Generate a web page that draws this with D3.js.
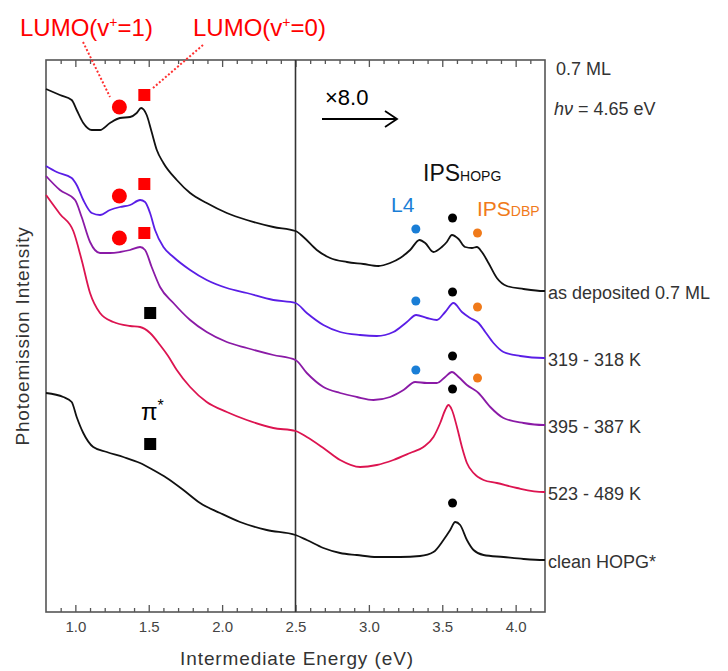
<!DOCTYPE html>
<html>
<head>
<meta charset="utf-8">
<script src="https://cdn.jsdelivr.net/npm/d3@7"></script>
<style>
    body { margin: 0; background: #fff; }
    svg { display: block; font-family: "Liberation Sans", Arial, sans-serif; }
</style>
</head>
<body>
<svg id="chart" width="728" height="671"></svg>
<script>
// Spectra: [energy (eV), intensity (a.u., offset, right of 2.5 eV shown x8)]
const asDeposited = [
    [0.80,52.3],[0.895,51.7],[0.975,51.2],[1.009,50.2],[1.054,48.9],[1.112,48.2],[1.168,48.2],
    [1.236,48.9],[1.304,49.4],[1.373,49.5],[1.418,49.9],[1.448,50.4],[1.486,49.7],[1.520,48.0],
    [1.555,46.2],[1.600,44.9],[1.691,43.2],[1.782,41.9],[1.895,40.9],[2.032,39.9],[2.168,39.2],
    [2.349,38.5],[2.50,38.1],[2.554,37.5],[2.645,36.2],[2.736,35.4],[2.850,35.0],[2.963,34.8],
    [3.065,34.6],[3.145,34.9],[3.213,35.4],[3.281,36.2],[3.345,37.2],[3.384,36.9],[3.440,36.0],
    [3.497,36.5],[3.531,37.0],[3.566,37.7],[3.611,37.3],[3.656,36.5],[3.702,36.4],[3.736,36.5],
    [3.770,36.0],[3.815,34.9],[3.872,33.4],[3.940,32.6],[4.054,32.3],[4.190,32.1],[4.20,32.1]
];
const k319 = [
    [0.80,44.6],[0.873,44.0],[0.975,43.4],[1.009,42.7],[1.054,41.2],[1.112,39.9],[1.168,39.7],
    [1.236,40.2],[1.304,40.5],[1.373,40.7],[1.441,41.2],[1.475,41.0],[1.509,39.9],[1.543,38.2],
    [1.600,36.5],[1.668,35.5],[1.782,34.2],[1.895,33.2],[2.032,32.4],[2.168,31.9],[2.349,31.2],
    [2.50,30.9],[2.577,29.9],[2.690,28.7],[2.804,28.0],[2.940,27.7],[3.054,27.6],[3.167,28.0],
    [3.259,29.0],[3.322,29.7],[3.395,29.4],[3.463,29.2],[3.520,30.0],[3.576,30.9],[3.634,30.0],
    [3.690,29.4],[3.747,28.9],[3.793,28.0],[3.849,26.9],[3.917,26.0],[4.031,25.6],[4.190,25.4],
    [4.20,25.4]
];
const k395 = [
    [0.80,43.6],[0.895,42.2],[0.998,41.2],[1.043,39.5],[1.100,37.0],[1.168,35.9],[1.236,35.9],
    [1.304,36.0],[1.373,36.2],[1.441,36.5],[1.475,36.2],[1.520,34.5],[1.577,32.5],[1.668,30.9],
    [1.782,29.2],[1.895,28.0],[2.032,27.0],[2.168,26.4],[2.349,25.7],[2.50,25.2],[2.577,23.9],
    [2.690,22.5],[2.804,21.9],[2.918,21.5],[3.031,21.2],[3.145,21.5],[3.236,22.2],[3.315,23.0],
    [3.395,22.9],[3.463,22.9],[3.520,23.5],[3.566,24.0],[3.611,23.5],[3.668,22.7],[3.747,21.9],
    [3.827,20.5],[3.917,19.4],[4.054,18.9],[4.190,18.7],[4.20,18.7]
];
const k523 = [
    [0.80,41.7],[0.895,39.8],[0.986,38.1],[1.043,35.2],[1.100,31.9],[1.168,29.9],[1.259,29.0],
    [1.373,28.6],[1.441,28.5],[1.509,27.9],[1.577,26.7],[1.632,25.6],[1.691,24.2],[1.782,22.5],
    [1.895,21.0],[2.032,20.0],[2.168,19.2],[2.349,18.4],[2.50,18.1],[2.577,17.5],[2.690,16.4],
    [2.804,15.2],[2.940,14.5],[3.054,14.7],[3.167,15.2],[3.281,15.9],[3.372,16.5],[3.440,17.5],
    [3.486,18.9],[3.520,20.2],[3.542,20.7],[3.566,20.2],[3.600,18.5],[3.634,16.5],[3.668,14.9],
    [3.713,13.9],[3.781,13.2],[3.872,12.9],[4.009,12.4],[4.190,12.0],[4.20,12.0]
];
const cleanHOPG = [
    [0.80,21.9],[0.918,21.5],[0.975,21.0],[1.009,19.5],[1.054,17.9],[1.122,16.5],[1.214,16.0],
    [1.327,15.5],[1.441,14.9],[1.531,14.2],[1.623,13.4],[1.736,12.2],[1.850,10.9],[1.986,9.9],
    [2.122,9.0],[2.304,8.2],[2.50,7.7],[2.577,7.2],[2.690,6.4],[2.804,5.9],[2.918,5.7],
    [3.054,5.5],[3.213,5.5],[3.349,5.6],[3.440,6.0],[3.508,7.2],[3.554,8.2],[3.588,9.0],
    [3.622,8.7],[3.668,7.2],[3.713,6.2],[3.781,5.7],[3.917,5.5],[4.054,5.3],[4.190,5.2],[4.20,5.2]
];

const seriesData = [asDeposited, k319, k395, k523, cleanHOPG];
const seriesLabels = ["as deposited 0.7 ML", "319 - 318 K", "395 - 387 K", "523 - 489 K", "clean HOPG*"];

// Peak markers [energy, intensity]
const lumo1Marks = [[1.30,50.5],[1.30,41.6],[1.30,37.4]];
const lumo0Marks = [[1.47,51.7],[1.47,42.8],[1.47,37.9]];
const piMarks = [[1.51,29.9],[1.51,16.8]];
const l4Marks = [[3.32,38.3],[3.32,31.1],[3.32,24.2]];
const ipsHopgMarks = [[3.57,39.4],[3.57,32.0],[3.57,25.6],[3.57,22.3],[3.57,10.9]];
const ipsDbpMarks = [[3.74,37.9],[3.74,30.5],[3.74,23.4]];

const majorTicks = [1.0, 1.5, 2.0, 2.5, 3.0, 3.5, 4.0];
const minorTicks = [0.9,1.1,1.2,1.3,1.4,1.6,1.7,1.8,1.9,2.1,2.2,2.3,2.4,2.6,2.7,2.8,2.9,
                    3.1,3.2,3.3,3.4,3.6,3.7,3.8,3.9,4.1];

document.addEventListener("DOMContentLoaded", function() {

    const seriesColors = ["#111111", "#5a1ee6", "#8a1aa6", "#dc1450", "#111111"];
    const frameColor = "#555";

    const svg = d3.select("#chart");

    ////////// Scales //////////
    const x = d3.scaleLinear().domain([0.8, 4.2]).range([46, 545]);
    const y = d3.scaleLinear().domain([0, 55.2]).range([612, 60]);
    const line = d3.line()
        .x(d => x(d[0]))
        .y(d => y(d[1]))
        .curve(d3.curveMonotoneX);

    ////////// Axes //////////
    const bottom = svg.append("g").attr("transform", `translate(0,${y(0)})`);
    bottom.call(d3.axisBottom(x).tickValues(majorTicks).tickSize(-7).tickPadding(9)
        .tickFormat(d3.format(".1f")));
    bottom.append("g").call(d3.axisBottom(x).tickValues(minorTicks).tickSize(-4).tickFormat(""));

    const top = svg.append("g").attr("transform", `translate(0,${y(55.2)})`);
    top.call(d3.axisTop(x).tickValues(majorTicks).tickSize(-7).tickFormat(""));
    top.append("g").call(d3.axisTop(x).tickValues(minorTicks).tickSize(-4).tickFormat(""));

    svg.selectAll(".domain").remove();
    svg.selectAll(".tick line").attr("stroke", frameColor).attr("stroke-width", 1.3);
    svg.selectAll(".tick text")
        .attr("fill", "#444")
        .style("font-size", "15px")
        .style("font-family", "Liberation Sans, Arial, sans-serif");

    // Frame and the 2.5 eV separator
    svg.append("rect")
        .attr("x", x(0.8)).attr("y", y(55.2))
        .attr("width", x(4.2) - x(0.8)).attr("height", y(0) - y(55.2))
        .attr("fill", "none").attr("stroke", frameColor).attr("stroke-width", 1.6);
    svg.append("line")
        .attr("x1", x(2.5)).attr("x2", x(2.5)).attr("y1", y(55.2)).attr("y2", y(0))
        .attr("stroke", "#333").attr("stroke-width", 1.6);

    // Axis titles
    svg.append("text")
        .attr("x", 297).attr("y", 665)
        .attr("text-anchor", "middle")
        .attr("fill", "#333")
        .style("font-size", "19px")
        .style("letter-spacing", "0.9px")
        .text("Intermediate Energy (eV)");
    svg.append("text")
        .attr("transform", "translate(29,336) rotate(-90)")
        .attr("text-anchor", "middle")
        .attr("fill", "#333")
        .style("font-size", "19px")
        .style("letter-spacing", "0.8px")
        .text("Photoemission Intensity");

    ////////// Spectra //////////
    seriesData.forEach((data, i) => {
        svg.append("path")
            .datum(data)
            .attr("fill", "none")
            .attr("stroke", seriesColors[i])
            .attr("stroke-width", 1.8)
            .attr("stroke-linejoin", "round")
            .attr("d", line);

        const last = data[data.length - 1];
        svg.append("text")
            .attr("x", x(4.2) + 3)
            .attr("y", y(last[1]) + 2)
            .attr("dy", "0.35em")
            .attr("fill", "#333")
            .style("font-size", "18px")
            .text(seriesLabels[i]);
    });

    ////////// Markers //////////
    function dots(marks, r, color) {
        svg.append("g").selectAll("circle")
            .data(marks).join("circle")
            .attr("cx", d => x(d[0])).attr("cy", d => y(d[1]))
            .attr("r", r).attr("fill", color);
    }
    function squares(marks, s, color) {
        svg.append("g").selectAll("rect")
            .data(marks).join("rect")
            .attr("x", d => x(d[0]) - s / 2).attr("y", d => y(d[1]) - s / 2)
            .attr("width", s).attr("height", s).attr("fill", color);
    }
    dots(lumo1Marks, 7.5, "#ff0000");
    squares(lumo0Marks, 12, "#ff0000");
    squares(piMarks, 12, "#000");
    dots(l4Marks, 4.5, "#1a7ed6");
    dots(ipsHopgMarks, 4.5, "#000");
    dots(ipsDbpMarks, 4.5, "#f07a1a");

    ////////// Annotations //////////
    const ann = svg.append("g").style("font-family", "Liberation Sans, Arial, sans-serif");

    // LUMO labels with dotted leaders
    const lumo1 = ann.append("text").attr("x", 20).attr("y", 36).attr("fill", "#ff0000")
        .style("font-size", "24px");
    lumo1.append("tspan").text("LUMO(v");
    lumo1.append("tspan").attr("dy", -9).style("font-size", "14px").text("+");
    lumo1.append("tspan").attr("dy", 9).text("=1)");

    const lumo0 = ann.append("text").attr("x", 193).attr("y", 36).attr("fill", "#ff0000")
        .style("font-size", "24px");
    lumo0.append("tspan").text("LUMO(v");
    lumo0.append("tspan").attr("dy", -9).style("font-size", "14px").text("+");
    lumo0.append("tspan").attr("dy", 9).text("=0)");

    ann.append("line").attr("x1", 83).attr("y1", 42).attr("x2", 110).attr("y2", 97)
        .attr("stroke", "#ff3030").attr("stroke-width", 2).attr("stroke-dasharray", "2,2");
    ann.append("line").attr("x1", 203).attr("y1", 45).attr("x2", 153).attr("y2", 88)
        .attr("stroke", "#ff3030").attr("stroke-width", 2).attr("stroke-dasharray", "2,2");

    // pi*
    const pi = ann.append("text").attr("x", 141).attr("y", 420).attr("fill", "#000")
        .style("font-size", "24px");
    pi.append("tspan").text("π");
    pi.append("tspan").attr("dy", -9).style("font-size", "16px").text("*");

    // x8.0 with arrow
    ann.append("text").attr("x", 325).attr("y", 105)
        .style("font-size", "22px").attr("fill", "#000").text("×8.0");
    ann.append("path")
        .attr("d", "M322,119 H397 M385,111 L397,119 L385,127")
        .attr("fill", "none").attr("stroke", "#000").attr("stroke-width", 1.8);

    // Right side legend text
    ann.append("text").attr("x", 556).attr("y", 75).attr("fill", "#333")
        .style("font-size", "18px").text("0.7 ML");
    const hv = ann.append("text").attr("x", 554).attr("y", 115).attr("fill", "#333")
        .style("font-size", "18px");
    hv.append("tspan").style("font-style", "italic").text("hν");
    hv.append("tspan").text(" = 4.65 eV");

    // IPS labels
    const ipsH = ann.append("text").attr("x", 423).attr("y", 181).attr("fill", "#111")
        .style("font-size", "23px");
    ipsH.append("tspan").text("IPS");
    ipsH.append("tspan").style("font-size", "14px").text("HOPG");

    ann.append("text").attr("x", 391).attr("y", 212).attr("fill", "#1a7ed6")
        .style("font-size", "21px").text("L4");

    const ipsD = ann.append("text").attr("x", 477).attr("y", 216).attr("fill", "#f07a1a")
        .style("font-size", "21px");
    ipsD.append("tspan").text("IPS");
    ipsD.append("tspan").style("font-size", "14px").text("DBP");
});
</script>
</body>
</html>
